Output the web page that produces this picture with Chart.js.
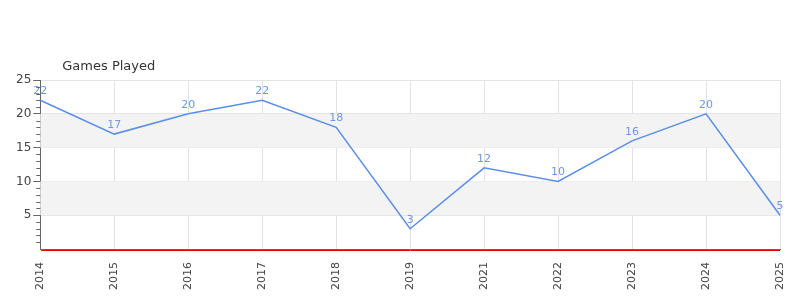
<!DOCTYPE html>
<html>
<head>
<meta charset="utf-8">
<script src="https://cdn.jsdelivr.net/npm/chart.js@4.4.0/dist/chart.umd.min.js"></script>
<style>
  body { margin: 0; background: #fff; }
  #wrap { width: 800px; height: 300px; }
</style>
</head>
<body>
<div id="wrap"><canvas id="grafica"></canvas></div>
<script>
const years = ['2014', '2015', '2016', '2017', '2018', '2019', '2021', '2022', '2023', '2024', '2025'];
const gamesPlayed = [22, 17, 20, 22, 18, 3, 12, 10, 16, 20, 5];
const yTicks = [5, 10, 15, 20, 25];
const chartTitle = 'Games Played';

const lineColor = '#5a8ee8';
const labelColor = '#6d98e4';
const gridColor = '#e3e3e3';
const axisColor = '#666';

// grey bands behind 5-10 and 15-20, small ticks, red zero line
const bandsPlugin = {
    id: 'bands',
    beforeDatasetsDraw(chart) {
        const { ctx, chartArea, scales } = chart;
        ctx.save();
        ctx.fillStyle = '#f3f3f3';
        [[5, 10], [15, 20]].forEach(b => {
            const y1 = scales.y.getPixelForValue(b[1]);
            const y0 = scales.y.getPixelForValue(b[0]);
            ctx.fillRect(chartArea.left, y1, chartArea.right - chartArea.left, y0 - y1);
        });
        ctx.restore();
    },
    afterDraw(chart) {
        const { ctx, chartArea, scales } = chart;
        ctx.save();
        ctx.strokeStyle = axisColor;
        ctx.lineWidth = 1;
        for (let v = 1; v < 25; v++) {
            if (v % 5 == 0) continue;
            const y = Math.round(scales.y.getPixelForValue(v)) + 0.5;
            ctx.beginPath();
            ctx.moveTo(chartArea.left - 4, y);
            ctx.lineTo(chartArea.left, y);
            ctx.stroke();
        }
        const y0 = Math.round(scales.y.getPixelForValue(0));
        ctx.strokeStyle = '#e00000';
        ctx.lineWidth = 1;
        ctx.beginPath();
        ctx.moveTo(chartArea.left + 1, y0 + 1.5);
        ctx.lineTo(chartArea.right, y0 + 1.5);
        ctx.stroke();

        ctx.fillStyle = '#333';
        ctx.font = '13px "DejaVu Sans"';
        ctx.textAlign = 'left';
        ctx.textBaseline = 'middle';
        ctx.fillText(chartTitle, chartArea.left + 22, 67);
        ctx.restore();
    },
    afterDatasetsDraw(chart) {
        const { ctx } = chart;
        const meta = chart.getDatasetMeta(0);
        ctx.save();
        ctx.fillStyle = labelColor;
        ctx.font = '11px "DejaVu Sans"';
        ctx.textAlign = 'center';
        ctx.textBaseline = 'middle';
        meta.data.forEach((pt, i) => {
            ctx.fillText(String(gamesPlayed[i]), pt.x, pt.y - 9);
        });
        ctx.restore();
    }
};

const config = {
    type: 'line',
    data: {
        labels: years,
        datasets: [{
            label: chartTitle,
            data: gamesPlayed,
            borderColor: lineColor,
            backgroundColor: lineColor,
            borderWidth: 1.5,
            pointRadius: 0,
            tension: 0
        }]
    },
    options: {
        responsive: true,
        maintainAspectRatio: false,
        animation: false,
        layout: {
            padding: { top: 80, right: 20, left: 14, bottom: 0 }
        },
        plugins: {
            legend: { display: false },
            title: { display: false },
            tooltip: { enabled: false }
        },
        scales: {
            x: {
                offset: false,
                afterFit(axis) {
                    axis.paddingLeft = 0;
                    axis.paddingRight = 0;
                    axis.height = 51;
                },
                grid: {
                    color: gridColor,
                    drawTicks: false
                },
                border: { color: axisColor, width: 1 },
                ticks: {
                    color: '#444',
                    font: { family: 'DejaVu Sans', size: 11 },
                    minRotation: 90,
                    maxRotation: 90,
                    padding: 13
                }
            },
            y: {
                min: 0,
                max: 25,
                afterBuildTicks(axis) {
                    axis.ticks = [0].concat(yTicks).map(v => ({ value: v }));
                },
                grid: {
                    color: ctx => ctx.tick && ctx.tick.value == 0 ? 'rgba(0,0,0,0)' : gridColor,
                    tickColor: ctx => ctx.tick && ctx.tick.value == 0 ? 'rgba(0,0,0,0)' : axisColor,
                    tickLength: 7
                },
                border: { color: axisColor, width: 1 },
                ticks: {
                    color: '#444',
                    font: { family: 'DejaVu Sans', size: 12 },
                    padding: 2,
                    callback: v => v == 0 ? '' : v
                }
            }
        }
    },
    plugins: [bandsPlugin]
};

let myChart = new Chart(document.getElementById('grafica'), config);
</script>
</body>
</html>
